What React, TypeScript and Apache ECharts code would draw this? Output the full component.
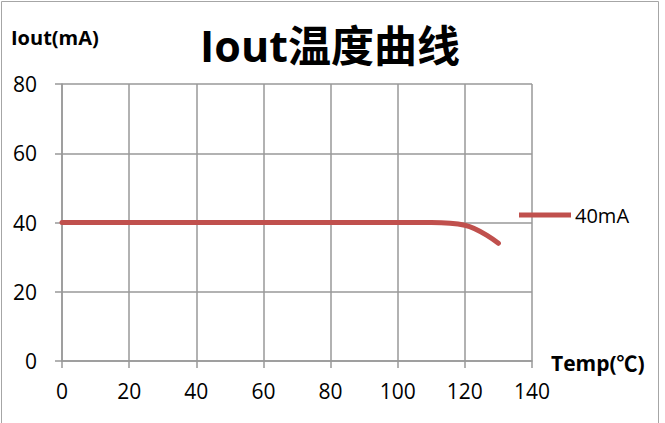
import React, { useEffect, useRef } from "react";
import * as echarts from "echarts";

const temps = [0, 20, 40, 60, 80, 100, 110, 120, 130];
const iout = [40, 40, 40, 40, 40, 40, 40, 39.2, 34];
const seriesName = "40mA";
const xTicks = [0, 20, 40, 60, 80, 100, 120, 140];
const yTicks = [0, 20, 40, 60, 80];

const FONT = "'Open Sans', 'Noto Sans CJK SC', sans-serif";
const RED = "#C0504D";
const GRID = "#999999";

export default function App() {
  const ref = useRef<HTMLDivElement>(null);
  useEffect(() => {
    if (!ref.current) return;
    const chart = echarts.init(ref.current, null, { renderer: "svg" });
    chart.setOption({
      animation: false,
      backgroundColor: "#ffffff",
      textStyle: { fontFamily: FONT },
      title: {
        text: "Iout温度曲线",
        left: 325,
        textAlign: "center",
        top: 19,
        textStyle: { fontSize: 43, fontWeight: "bold", color: "#000", fontFamily: FONT },
      },
      graphic: [
        {
          type: "rect",
          shape: { x: 1.5, y: 1.5, width: 657, height: 430 },
          style: { fill: "none", stroke: "#a6a6a6", lineWidth: 1 },
          silent: true,
        },
        {
          type: "text",
          left: 11,
          top: 27,
          style: { text: "Iout(mA)", fontSize: 20, fontWeight: "bold", fill: "#000", fontFamily: FONT },
        },
        {
          type: "text",
          left: 551,
          top: 352,
          style: { text: "Temp(℃)", fontSize: 21, fontWeight: "bold", fill: "#000", fontFamily: FONT },
        },
      ],
      legend: {
        data: [{ name: seriesName, icon: "rect" }],
        left: 519,
        top: 205,
        padding: 0,
        itemWidth: 52,
        itemHeight: 5,
        itemGap: 4,
        textStyle: { fontSize: 20, color: "#000", fontFamily: FONT, padding: [0, 0, 0, -1] },
      },
      grid: { left: 62, top: 84, width: 470, height: 277, containLabel: false },
      xAxis: {
        type: "value",
        min: xTicks[0],
        max: xTicks[xTicks.length - 1],
        interval: 20,
        axisLine: { show: true, lineStyle: { color: GRID, width: 1.5 } },
        axisTick: { show: true, length: 7, lineStyle: { color: GRID, width: 1.5 } },
        splitLine: { show: true, lineStyle: { color: GRID, width: 1.5 } },
        axisLabel: { fontSize: 21, color: "#000", margin: 19, fontFamily: FONT },
      },
      yAxis: {
        type: "value",
        min: yTicks[0],
        max: yTicks[yTicks.length - 1],
        interval: 20,
        axisLine: { show: true, lineStyle: { color: GRID, width: 1.5 } },
        axisTick: { show: true, length: 7, lineStyle: { color: GRID, width: 1.5 } },
        splitLine: { show: true, lineStyle: { color: GRID, width: 1.5 } },
        axisLabel: { fontSize: 21, color: "#000", margin: 25, fontFamily: FONT },
      },
      series: [
        {
          name: seriesName,
          type: "line",
          data: temps.map((t, i) => [t, iout[i]]),
          smooth: 0.4,
          showSymbol: false,
          symbol: "none",
          lineStyle: { color: RED, width: 5, cap: "round" },
          itemStyle: { color: RED },
        },
      ],
    });
    return () => chart.dispose();
  }, []);
  return (
    <div
      ref={ref}
      style={{ position: "fixed", left: 0, top: 0, width: 665, height: 423 }}
    />
  );
}
